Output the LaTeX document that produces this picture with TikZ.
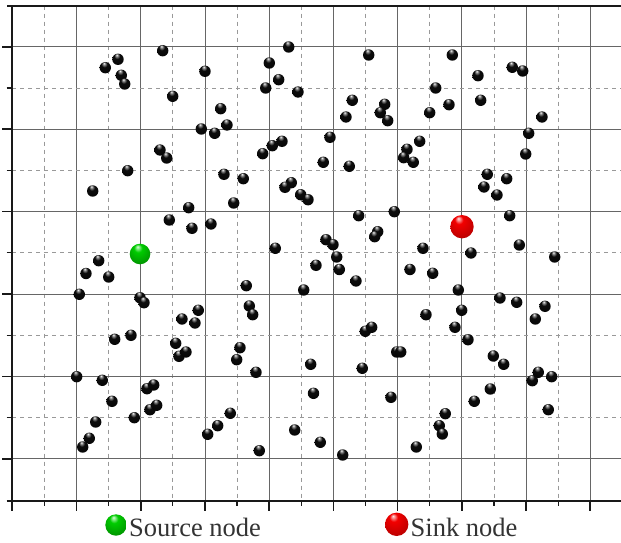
\documentclass[tikz,border=0pt]{standalone}
\usepackage{fontspec}
\setmainfont{Liberation Serif}
\pgfdeclareradialshading{shBlack}{\pgfpoint{-6bp}{20bp}}{color(0bp)=(white); color(5bp)=(black!45); color(13bp)=(black!95); color(50bp)=(black)}
\pgfdeclareradialshading{shGreen}{\pgfpoint{-6bp}{18bp}}{color(0bp)=(green!15!white); color(10bp)=(green!80!black); color(30bp)=(green!60!black); color(50bp)=(green!35!black)}
\pgfdeclareradialshading{shRed}{\pgfpoint{-8bp}{18bp}}{color(0bp)=(red!10!white); color(9bp)=(red!95!black); color(30bp)=(red!75!black); color(50bp)=(red!45!black)}
\begin{document}
\begin{tikzpicture}[x=1pt,y=-1pt,
  gridmajor/.style={draw=black!60,line width=0.9pt},
  gridminor/.style={draw=black!40,line width=0.9pt,dash pattern=on 4pt off 4pt},
  axisline/.style={draw=black!90,line width=2pt},
  tickmajor/.style={draw=black!90,line width=1.6pt},
  tickminor/.style={draw=black!90,line width=1.2pt},
  blackball/.style={shading=shBlack},
  greenball/.style={shading=shGreen},
  redball/.style={shading=shRed},
  legendtext/.style={font=\fontsize{26.5}{30}\selectfont,text=black!80,inner sep=0pt,anchor=base west}]
\useasboundingbox (0,0) rectangle (621,543);
\fill[white] (0,0) rectangle (621,543);
% grid
\foreach \k in {1,3,...,17}
  \draw[gridminor] (12.3+32.11*\k,5.7) -- (12.3+32.11*\k,500.7);
\foreach \k in {2,4,...,18}
  \draw[gridmajor] (12.3+32.11*\k,5.7) -- (12.3+32.11*\k,500.7);
\foreach \j in {2,4,...,10}
  \draw[gridminor] (12.3,5.7+41.19*\j) -- (621,5.7+41.19*\j);
\foreach \j in {1,3,...,11}
  \draw[gridmajor] (12.3,5.7+41.19*\j) -- (621,5.7+41.19*\j);
% axes
\draw[axisline] (7,5.7) -- (621,5.7);
\draw[axisline] (12.3,5.7) -- (12.3,510.5);
\draw[axisline] (6.7,500.7) -- (621,500.7);
% ticks
\foreach \j in {1,3,...,11}
  \draw[tickmajor] (2.3,5.7+41.19*\j) -- (12.3,5.7+41.19*\j);
\foreach \j in {2,4,...,10}
  \draw[tickminor] (6.5,5.7+41.19*\j) -- (12.3,5.7+41.19*\j);
\foreach \k in {2,4,...,18}
  \draw[tickmajor] (12.3+32.11*\k,500.7) -- (12.3+32.11*\k,510.5);
\foreach \k in {1,3,...,17}
  \draw[tickminor] (12.3+32.11*\k,500.7) -- (12.3+32.11*\k,505.7);
% black balls
\foreach \x/\y in {
 105.3/67.7,118/59.3,121.3/75.3,124.7/84,162.7/50.7,205/71.3,172.7/96.3,288.7/47,269.3/63,278.7/79.7,265.7/88,298/92,
 368.7/55,452.3/55,512.3/67.3,522.7/71,478/75.7,435.7/88,352.3/100.3,384.7/104.3,380.3/112.7,387.7/120.7,346/117,429.7/112.7,
 449/104.7,480.7/100.3,542/117,528.7/133.3,525.7/154,220.7/108.7,227/125,201.3/129,214.7/133.3,160/150,166.7/158,282/141.3,
 272.3/145.7,262.7/153.7,330/137.3,419.7/141.3,407/149.3,403.7/157.7,413.3/162.3,323.3/162.3,349.3/166.3,127.7/170.7,92.7/191,
 224/174.3,243.3/178.7,291.3/182.7,285/187.3,300.7/194.7,308/199.7,487.3/174.3,506.7/178.7,484/187,497/195,188.7/207.7,
 233.7/203,169.3/220,192/228.3,211/224,358.7/215.7,394.3/211.7,509.7/215.7,377.7/231.7,374.7/236.7,326/239.7,333/244.7,
 336.7/257,423/248.3,471/253,519.3/245,554.7/257,275.3/248.3,98.7/260.7,86/273.5,108.7/277,316/265.3,339.3/269.5,410/269.5,
 432.7/273.3,356/281,79.3/294.3,140/297.7,144/302.7,246.3/285.7,249.3/306,252.7/314.7,303.7/290,458.3/290,500/298,516.7/302.3,
 545/306.3,535.3/319,461.7/310.3,426/314.7,455/327.3,468/339.7,365.3/331.3,371.7/327.3,396.7/352,400.7/352,182/319,198.3/310.3,
 195/323,114.7/339.3,131/335.3,175.7/343.3,179/356.3,186/352,240/347.7,236.7/359.7,256/372.3,310.7/364.3,362.3/368.3,493.3/356,
 503.7/364.3,538.3/372.3,532.3/380.7,551.7/376.7,490.3/389,474.3/401.3,313.5/393.3,391/397.3,76.7/376.7,102.3/380.3,112/401.3,
 147/388.7,153.7/385,150/409.7,156.7/405.3,134.3/417.7,95.7/422,89.3/438.3,82.7/447,230.3/413.3,217.7/425.7,207.7/434.3,
 259.3/450.7,294.7/430,320.3/442.3,342.7/455,445.3/413.7,439.3/425.7,442.3/434,548.3/409.7,416.3/447}
  \shade[blackball] (\x,\y) circle (5.7);
% source and sink in plot
\shade[greenball] (140,254) circle (10.3);
\shade[redball] (462,226.7) circle (11.7);
% legend
\shade[greenball] (116,525) circle (10.7);
\node[legendtext] (src) at (129,536.7) {Source node};
\shade[redball] (396.7,524.3) circle (11.7);
\node[legendtext] (snk) at (410.5,536.7) {Sink node};
\end{tikzpicture}
\end{document}
